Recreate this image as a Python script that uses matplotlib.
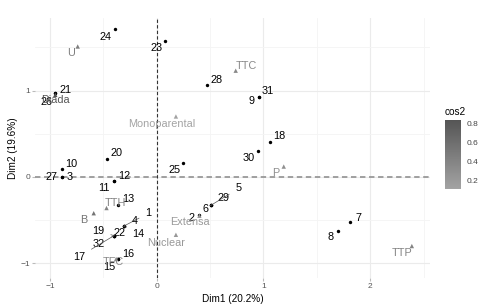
import matplotlib
matplotlib.use("Agg")
import matplotlib.pyplot as plt
import numpy as np
from matplotlib.colors import LinearSegmentedColormap, Normalize

# ---- data: individuals ----
ind_labels = ["24", "23", "28", "21", "26", "31", "9", "18", "30", "25", "20", "10",
              "27", "3", "12", "11", "13", "1", "4", "14", "22", "19", "32", "17",
              "16", "15", "2", "6", "29", "5", "7", "8"]
ind_x = [-0.39, 0.08, 0.475, -0.956, -0.956, 0.956, 0.956, 1.06, 0.95, 0.25, -0.47, -0.89,
         -0.89, -0.89, -0.40, -0.40, -0.36, -0.31, -0.31, -0.31, -0.40, -0.40, -0.40, -0.40,
         -0.36, -0.36, 0.40, 0.505, 0.505, 0.505, 1.81, 1.70]
ind_y = [1.71, 1.57, 1.06, 0.97, 0.97, 0.93, 0.93, 0.41, 0.30, 0.16, 0.21, 0.09,
         0.0, 0.0, -0.05, -0.05, -0.33, -0.57, -0.57, -0.57, -0.68, -0.68, -0.68, -0.68,
         -0.95, -0.95, -0.44, -0.33, -0.33, -0.33, -0.52, -0.63]

# ---- data: variable categories ----
var_labels = ["U", "TTC", "Diada", "Monoparental", "P", "TTH", "B", "Extensa",
              "Nuclear", "TFC", "TTP"]
var_x = [-0.74, 0.74, -0.95, 0.18, 1.19, -0.47, -0.59, 0.40, 0.18, -0.38, 2.39]
var_y = [1.51, 1.23, 0.95, 0.70, 0.12, -0.36, -0.42, -0.45, -0.67, -0.95, -0.80]
var_cos2 = [0.45, 0.35, 0.835, 0.113, 0.30, 0.40, 0.55, 0.20, 0.22, 0.35, 0.40]

x_label = "Dim1 (20.2%)"
y_label = "Dim2 (19.6%)"
cbar_title = "cos2"
cbar_ticks = [0.2, 0.4, 0.6, 0.8]

# ---- label offsets (pixels, image-down positive), and leader lines ----
ind_off = {"24": (-10, 8), "23": (-9, 7), "28": (9, -5), "21": (11, -3), "26": (-8, 9),
           "31": (9, -6), "9": (-7, 4), "18": (9, -6), "30": (-9, 7), "25": (-9, 7),
           "20": (10, -6), "10": (10, -5), "27": (-10, 0), "3": (8, 0), "12": (10, -5),
           "11": (-10, 7), "13": (10, -6), "1": (25, -13), "4": (11, -5), "14": (15, 8),
           "22": (6, -3), "19": (-16, -5), "32": (-15, 8), "17": (-35, 21), "16": (10, -5),
           "15": (-9, 8), "2": (-8, 3), "6": (-5, 4), "29": (13, -7), "5": (28, -17),
           "7": (9, -4), "8": (-8, 6)}
ind_lines = {"1", "14", "19", "32", "17", "5", "29"}
var_off = {"U": (-7, 6), "TTC": (11, -5), "Diada": (0, 5), "Monoparental": (-14, 8),
           "P": (-8, 6), "TTH": (9, -5), "B": (-10, 7), "Extensa": (-9, 6),
           "Nuclear": (-10, 8), "TFC": (-3, 3), "TTP": (-10, 7)}

W, H = 498, 308
fig = plt.figure(figsize=(W / 100, H / 100), dpi=100)
plt.rcParams['font.family'] = ['Liberation Sans', 'DejaVu Sans']
ax = fig.add_axes([35 / W, 1 - 278 / H, (430 - 35) / W, (278 - 18) / H])
ax.set_xlim(-1.14, 2.56)
ax.set_ylim(-1.17, 1.84)
for s in ax.spines.values():
    s.set_visible(False)

ax.set_xticks([-1, 0, 1, 2])
ax.set_yticks([-1, 0, 1])
ax.set_xticks([-0.5, 0.5, 1.5, 2.5], minor=True)
ax.set_yticks([-0.5, 0.5, 1.5], minor=True)
ax.grid(True, which='major', color='#ebebeb', lw=0.8)
ax.grid(True, which='minor', color='#f4f4f4', lw=0.6)
ax.tick_params(which='major', length=2, color='#bbbbbb', labelsize=6,
               labelcolor='#555555', pad=1.5)
ax.tick_params(which='minor', length=0)
ax.set_axisbelow(True)

ax.axhline(0, color='#999999', lw=1.3, ls=(0, (3, 2)), zorder=1)
ax.axvline(0, color='#333333', lw=0.8, ls=(0, (3, 2)), zorder=1)

cmap = LinearSegmentedColormap.from_list("g", ["#a3a3a3", "#555555"])
norm = Normalize(vmin=min(var_cos2), vmax=max(var_cos2))

# individuals
ax.scatter(ind_x, ind_y, s=6, color='black', zorder=3, lw=0)
for lab, x, y in zip(ind_labels, ind_x, ind_y):
    dx, dy = ind_off[lab]
    ax.annotate(lab, (x, y), xytext=(dx, -dy), textcoords='offset pixels',
                ha='center', va='center', fontsize=7.8, color='black', zorder=4,
                arrowprops=(dict(arrowstyle='-', color='#555555', lw=0.5,
                                 shrinkA=3, shrinkB=0) if lab in ind_lines else None))

# variable categories
cols = [cmap(norm(c)) for c in var_cos2]
ax.scatter(var_x, var_y, s=10, marker='^', c=cols, zorder=3, lw=0)
for lab, x, y, c in zip(var_labels, var_x, var_y, cols):
    dx, dy = var_off[lab]
    ax.annotate(lab, (x, y), xytext=(dx, -dy), textcoords='offset pixels',
                ha='center', va='center', fontsize=7.8, color=c, zorder=4)

ax.set_xlabel(x_label, fontsize=7.2, labelpad=3)
ax.set_ylabel(y_label, fontsize=7.2, labelpad=2)

# colorbar
cax = fig.add_axes([445 / W, 1 - 189 / H, 16 / W, 69 / H])
cb = fig.colorbar(plt.cm.ScalarMappable(norm=norm, cmap=cmap), cax=cax, ticks=cbar_ticks)
cb.outline.set_visible(False)
cax.tick_params(length=2, color='white', labelsize=6, labelcolor='#444444', pad=2)
cax.set_yticklabels([f"{t:.1f}" for t in cbar_ticks])
fig.text(445 / W, 1 - 112 / H, cbar_title, fontsize=7.2, ha='left', va='center')

fig.savefig("out.png", dpi=100)
